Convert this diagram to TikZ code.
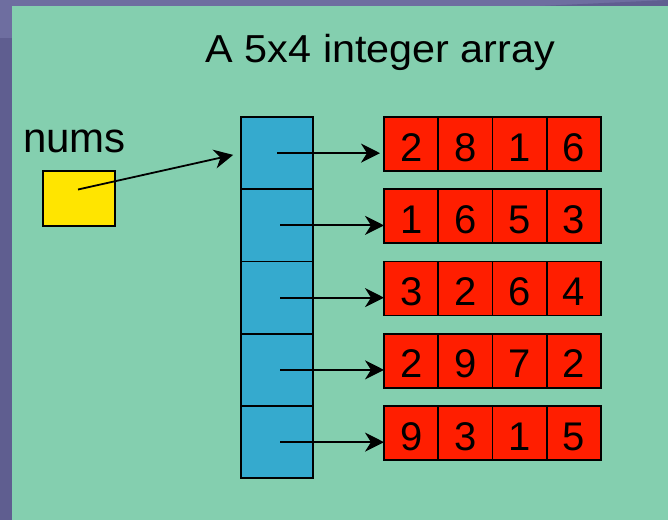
\documentclass[tikz,border=0pt]{standalone}
\usepackage{fontspec}
\setmainfont{Liberation Sans}
\usetikzlibrary{arrows.meta,calc}
\definecolor{bgpurple}{HTML}{6E6EA0}
\definecolor{bgdark}{HTML}{5F5E90}
\definecolor{panelgreen}{HTML}{84CFAF}
\definecolor{cellblue}{HTML}{35AACE}
\definecolor{cellred}{HTML}{FF1E00}
\definecolor{ptryellow}{HTML}{FFE500}
\begin{document}
\begin{tikzpicture}[x=1pt,y=-1pt,
  bluecell/.style={draw=black, line width=1.8pt, fill=cellblue, minimum width=72pt,
    minimum height=72.25pt, inner sep=0pt, outer sep=0pt, anchor=north west},
  redcell/.style={draw=black, line width=1.8pt, fill=cellred, minimum width=54.25pt,
    minimum height=54pt, inner sep=0pt, outer sep=0pt, anchor=north west,
    text height=34pt, text depth=0pt, font=\fontsize{40}{48}\selectfont},
  ptr/.style={-{Stealth[length=19pt,width=19pt,inset=6pt]}, line width=1.8pt}
]
% background
\useasboundingbox (0,0) rectangle (668,520);
\fill[bgpurple] (0,0) rectangle (668,520);
\fill[bgdark] (0,38) rectangle (12,520);
\fill[bgdark] (540,6) -- (668,0) -- (668,6) -- cycle;
\fill[panelgreen] (12,6) rectangle (668,520);

% title
\node[anchor=base, inner sep=0pt, xscale=1.06, font=\fontsize{39}{46}\selectfont]
  (title) at (380.5,62) {A 5x4 integer array};

% pointer variable
\node[anchor=base west, inner sep=0pt, font=\fontsize{42}{50}\selectfont]
  (numslabel) at (23,152) {nums};
\node[draw=black, line width=1.8pt, fill=ptryellow, minimum width=72pt,
  minimum height=55pt, inner sep=0pt, outer sep=0pt, anchor=north west]
  (ptrbox) at (43,171) {};

% rows
\foreach \row/\gap/\off [count=\i] in {{2,8,1,6}/4/0,{1,6,5,3}/0/3,{3,2,6,4}/0/3,{2,9,7,2}/0/3,{9,3,1,5}/0/3}{
  \node[bluecell] (b\i) at (241,{117+(\i-1)*72.25}) {};
  \foreach \d [count=\j] in \row {
    \node[redcell] (r\i\j) at ({384+(\j-1)*54.25},{117+(\i-1)*72.25}) {\d};
  }
  \draw[ptr, shorten >=\gap pt, shorten <=\off pt] (b\i.center) -- (b\i.center -| r\i1.west);
}

% nums pointer
\coordinate (numsstart) at ($(ptrbox.center)+(-1,-9)$);
\draw[ptr, shorten >=8pt] (numsstart) -- (b1.west);
\end{tikzpicture}
\end{document}
